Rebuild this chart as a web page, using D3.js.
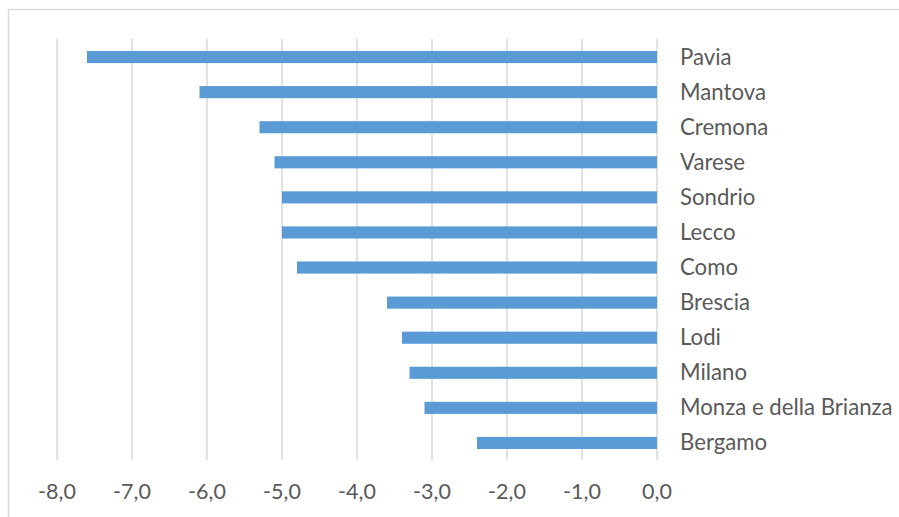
<!DOCTYPE html>
<html><head><meta charset="utf-8">
<script src="https://cdn.jsdelivr.net/npm/d3@7"></script>
<style>body{margin:0;background:#fff}svg{display:block}</style>
</head><body>
<script>
const categories = ["Pavia","Mantova","Cremona","Varese","Sondrio","Lecco","Como","Brescia","Lodi","Milano","Monza e della Brianza","Bergamo"];
const values = [-7.6,-6.1,-5.3,-5.1,-5.0,-5.0,-4.8,-3.6,-3.4,-3.3,-3.1,-2.4];
const tickValues = [-8,-7,-6,-5,-4,-3,-2,-1,0];

const W = 899, H = 517;
const svg = d3.select("body").append("svg").attr("width", W).attr("height", H);
const font = "Lato, 'Open Sans', sans-serif";

svg.append("rect").attr("x", 8.5).attr("y", 9.5).attr("width", W + 10).attr("height", H + 10)
  .attr("fill", "none").attr("stroke", "#d9d9d9").attr("stroke-width", 1.5);

const x = d3.scaleLinear().domain([-8, 0]).range([57, 657]);
const y = d3.scaleBand().domain(categories).range([39.5, 460.5]).paddingInner(0.655).paddingOuter(0.3275);

const grid = svg.append("g");
grid.selectAll("line").data(tickValues).join("line")
  .attr("x1", d => x(d)).attr("x2", d => x(d))
  .attr("y1", 39).attr("y2", 460)
  .attr("stroke", "#d9d9d9").attr("stroke-width", 1.5);

svg.append("g").selectAll("rect").data(values).join("rect")
  .attr("x", d => x(Math.min(d, 0)))
  .attr("width", d => Math.abs(x(d) - x(0)))
  .attr("y", (d, i) => y(categories[i]))
  .attr("height", y.bandwidth())
  .attr("fill", "#5b9bd5");

svg.append("g").selectAll("text").data(categories).join("text")
  .attr("x", 680).attr("y", d => y(d) + y.bandwidth() / 2 - 0.5)
  .attr("dy", "0.36em")
  .attr("font-family", font).attr("font-size", 22.2)
  .attr("fill", "#595959").text(d => d);

svg.append("g").selectAll("text").data(tickValues).join("text")
  .attr("x", d => x(d)).attr("y", 499)
  .attr("text-anchor", "middle")
  .attr("font-family", font).attr("font-size", 21.5)
  .attr("fill", "#595959").text(d => d3.format(".1f")(d).replace(".", ",").replace("−", "-"));
</script>
</body></html>
